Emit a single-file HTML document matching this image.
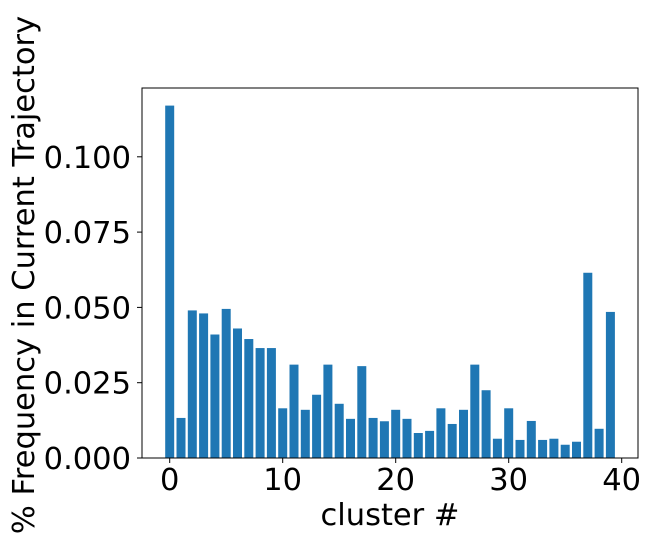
<!DOCTYPE html>
<html><head><meta charset="utf-8"><style>body{margin:0;background:#fff}svg{display:block}text{font-family:"DejaVu Sans","Liberation Sans",sans-serif;fill:#000}</style></head>
<body>
<svg id="chart" width="651" height="547"></svg>
<script>
const clusters=[...Array(40).keys()];
const freqs=[0.117,0.0133,0.049,0.048,0.041,0.0495,0.043,0.0395,0.0365,0.0365,0.0165,0.031,0.016,0.021,0.031,0.018,0.013,0.0305,0.0133,0.0122,0.016,0.013,0.0083,0.009,0.0165,0.0113,0.016,0.031,0.0225,0.0064,0.0165,0.006,0.0123,0.006,0.0064,0.0044,0.0054,0.0615,0.0097,0.0485];
const xTicks=[0,10,20,30,40];
const yTicks=[0,0.025,0.05,0.075,0.1];
const yTickLabels=["0.000","0.025","0.050","0.075","0.100"];
const NS="http://www.w3.org/2000/svg";
const svg=document.getElementById('chart');
const L=142,R=638,T=88,B=458;
const x=v=>169.7+v*11.3;
const y=v=>B-v*3012;
function mk(t,a,p){const e=document.createElementNS(NS,t);for(const k in a)e.setAttribute(k,a[k]);(p||svg).appendChild(e);return e;}
clusters.forEach((c,i)=>{
 const r=mk('rect',{x:x(c)-4.5,y:y(freqs[i]),width:9,height:B-y(freqs[i]),fill:'#1f77b4'});
 
 
});
const frame=mk('rect',{x:L,y:T,width:R-L,height:B-T,fill:'none',stroke:'#000','stroke-width':1});


xTicks.forEach(v=>{
 mk('line',{x1:x(v),x2:x(v),y1:B,y2:B+5,stroke:'#000'});
 const t=mk('text',{x:x(v),y:B+32,'text-anchor':'middle','font-size':30.5});
 t.textContent=v;
 
 
});
yTicks.forEach((v,i)=>{
 mk('line',{x1:L-5,x2:L,y1:y(v),y2:y(v),stroke:'#000'});
 const t=mk('text',{x:L-11,y:y(v)+11,'text-anchor':'end','font-size':30.5});
 t.textContent=yTickLabels[i];
 
 
});
const xl=mk('text',{x:390,y:525,'text-anchor':'middle','font-size':30.5});
xl.textContent='cluster #';


const yl=mk('text',{x:0,y:0,'text-anchor':'middle','font-size':30.5,transform:'translate(34,275) rotate(-90)'});
yl.textContent='% Frequency in Current Trajectory';


</script>
</body></html>
